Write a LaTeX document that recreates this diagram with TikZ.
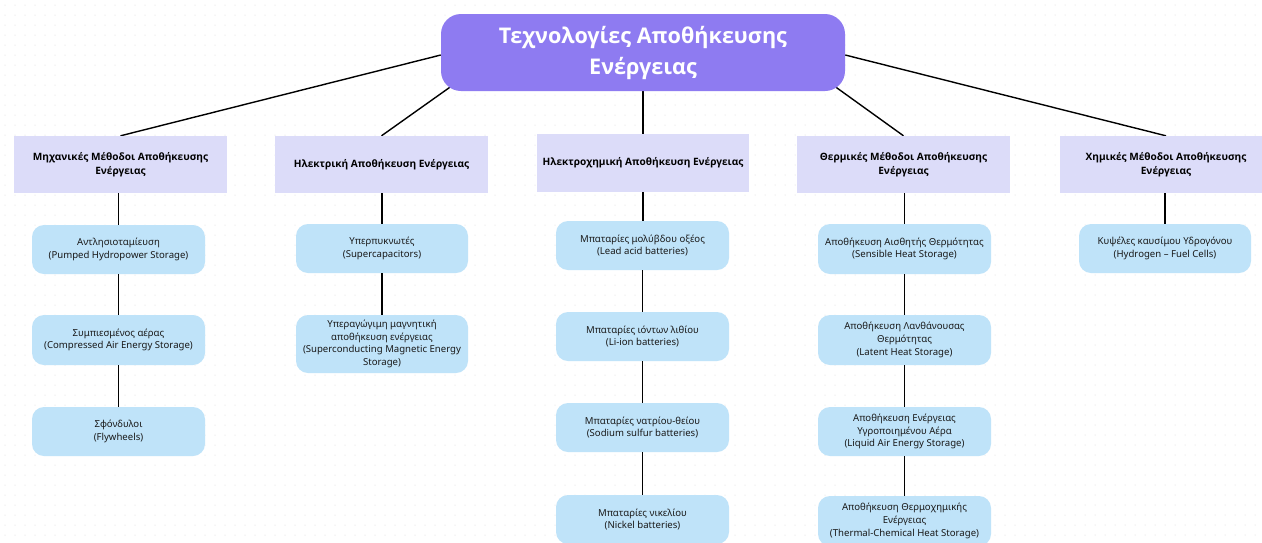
\documentclass[tikz,border=0pt]{standalone}
\usepackage{fontspec}
\setmainfont{Open Sans}
\newfontfamily\itemfont{Noto Sans}
\usetikzlibrary{calc,backgrounds}
\definecolor{rootfill}{HTML}{8E7BF1}
\definecolor{catfill}{HTML}{DCDCF9}
\definecolor{itemfill}{HTML}{BFE3F9}
\definecolor{gridgray}{HTML}{D6D6D6}
\tikzset{
  rootbox/.style={draw=none,fill=rootfill,rounded corners=20pt,minimum width=404pt,minimum height=77pt,
    align=center,text=white,font=\fontsize{21.6}{31}\selectfont\bfseries,inner sep=0pt},
  catbox/.style={draw=none,fill=catfill,minimum width=213pt,minimum height=57pt,
    align=center,font=\fontsize{10.1}{13.5}\selectfont\bfseries,inner sep=0pt},
  itembox/.style={draw=none,fill=itemfill,rounded corners=12pt,minimum width=173pt,minimum height=49pt,
    align=center,font=\itemfont\fontsize{9.6}{12.6}\selectfont,text=black!90,inner sep=0pt},
  conn/.style={draw=black,line width=1.4pt}
}
\begin{document}
\begin{tikzpicture}[x=1pt,y=-1pt]
\useasboundingbox (0,0) rectangle (1262,542);
\clip (0,0) rectangle (1262,542);
% root
\node[rootbox] (c) at (643,52.5) {Τεχνολογίες Αποθήκευσης\\Ενέργειας};
% categories
\node[catbox] (k1) at (120.5,164.5) {Μηχανικές Μέθοδοι Αποθήκευσης\\Ενέργειας};
\node[catbox] (k2) at (381.5,164.5) {Ηλεκτρική Αποθήκευση Ενέργειας};
\node[catbox,minimum width=212pt,minimum height=58pt] (k3) at (643,163) {Ηλεκτροχημική Αποθήκευση Ενέργειας};
\node[catbox] (k4) at (903.5,164.5) {Θερμικές Μέθοδοι Αποθήκευσης\\Ενέργειας};
\node[catbox] (k5) at (1166,164.5) {Χημικές Μέθοδοι Αποθήκευσης\\Ενέργειας};
% column 1
\node[itembox] (a1) at (118.5,249.5) {Αντλησιοταμίευση\\(Pumped Hydropower Storage)};
\node[itembox,minimum height=50pt] (a2) at (118.5,340) {Συμπιεσμένος αέρας\\(Compressed Air Energy Storage)};
\node[itembox] (a3) at (118.5,431.5) {Σφόνδυλοι\\(Flywheels)};
% column 2
\node[itembox,minimum width=172pt] (b1) at (382,248.5) {Υπερπυκνωτές\\(Supercapacitors)};
\node[itembox,minimum width=172pt,minimum height=58pt] (b2) at (382,344) {Υπεραγώγιμη μαγνητική\\αποθήκευση ενέργειας\\(Superconducting Magnetic Energy\\Storage)};
% column 3
\node[itembox] (d1) at (642.5,245.5) {Μπαταρίες μολύβδου οξέος\\(Lead acid batteries)};
\node[itembox] (d2) at (642.5,336.5) {Μπαταρίες ιόντων λιθίου\\(Li-ion batteries)};
\node[itembox] (d3) at (642.5,427.5) {Μπαταρίες νατρίου-θείου\\(Sodium sulfur batteries)};
\node[itembox] (d4) at (642.5,519.5) {Μπαταρίες νικελίου\\(Nickel batteries)};
% column 4
\node[itembox,minimum height=50pt] (e1) at (904.5,249) {Αποθήκευση Αισθητής Θερμότητας\\(Sensible Heat Storage)};
\node[itembox,minimum height=50pt] (e2) at (904.5,340) {Αποθήκευση Λανθάνουσας\\Θερμότητας\\(Latent Heat Storage)};
\node[itembox] (e3) at (904.5,431.5) {Αποθήκευση Ενέργειας\\Υγροποιημένου Αέρα\\(Liquid Air Energy Storage)};
\node[itembox,minimum height=50pt] (e4) at (904.5,521) {Αποθήκευση Θερμοχημικής\\Ενέργειας\\(Thermal-Chemical Heat Storage)};
% column 5
\node[itembox,minimum width=172pt] (f1) at (1165,248.5) {Κυψέλες καυσίμου Υδρογόνου\\(Hydrogen – Fuel Cells)};
% background grid and root connectors
\begin{scope}[on background layer]
\fill[white] (0,0) rectangle (1262,542);
\foreach \gx in {5,15,...,1262} {
  \foreach \gy in {5,15,...,542} {
    \fill[gridgray] (\gx,\gy) circle (0.5pt);
  }
}
\draw[conn] (k1.north) -- ($(c.west)+(0,2.5)$);
\draw[conn] (k2.north) -- ($(c.south west)+(19,-11)$);
\draw[conn] (k3.north) -- (c.south);
\draw[conn] (k4.north) -- ($(c.south east)+(-19,-11)$);
\draw[conn] (k5.north) -- ($(c.east)+(0,2.5)$);
\end{scope}
\draw[conn] (k1.south -| a1.north) -- (a1.north);
\draw[conn] (a1) -- (a2);
\draw[conn] (a2) -- (a3);
\draw[conn] (k2.south -| b1.north) -- (b1.north);
\draw[conn] (b1) -- (b2);
\draw[conn] (k3.south) -- (d1.north -| k3.south);
\draw[conn] (d1) -- (d2);
\draw[conn] (d2) -- (d3);
\draw[conn] (d3) -- (d4);
\draw[conn] (k4.south -| e1.north) -- (e1.north);
\draw[conn] (e1) -- (e2);
\draw[conn] (e2) -- (e3);
\draw[conn] (e3) -- (e4);
\draw[conn] (k5.south -| f1.north) -- (f1.north);
\end{tikzpicture}
\end{document}
